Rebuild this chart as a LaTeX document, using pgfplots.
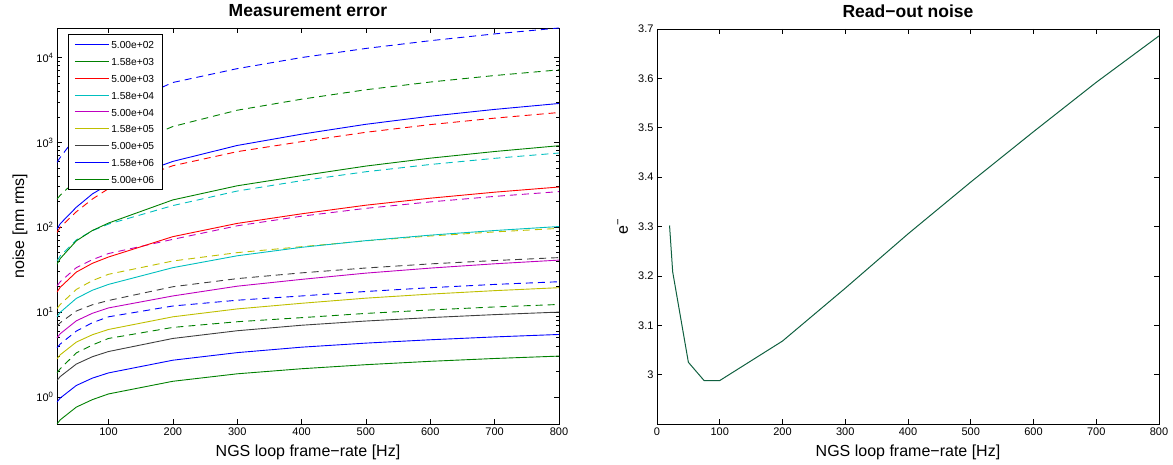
\documentclass[border=0pt]{standalone}
\usepackage{fontspec}
\setmainfont{Liberation Sans}
\usepackage{pgfplots}
\usepackage{pgfplotstable}
\pgfplotsset{compat=1.18}
\definecolor{mblue}{rgb}{0,0,1}
\definecolor{mgreen}{rgb}{0,0.5,0}
\definecolor{mred}{rgb}{1,0,0}
\definecolor{mcyan}{rgb}{0,0.75,0.75}
\definecolor{mmag}{rgb}{0.75,0,0.75}
\definecolor{myel}{rgb}{0.75,0.75,0}
\definecolor{mgray}{rgb}{0.25,0.25,0.25}
\definecolor{rongreen}{RGB}{16,96,64}

\pgfplotstableread{
x    S1    S2    S3    S4    S5    S6    S7    S8    S9    D1    D2    D3    D4    D5    D6    D7    D8    D9
20   95    36.6  17.2  8.8   4.97  2.81  1.56  0.87  0.48  582   215   87    40    20.3  11    6.8   3.8   1.92
25   110   42.7  19.6  9.94  5.56  3.14  1.74  0.97  0.537 665   238   100   46    22.8  12.3  7.5   4.2   2.15
50   172   69.1  29.6  14.5  7.89  4.43  2.44  1.365 0.759 1182  360   152   70.8  33.4  18.5  10.3  5.97  3.3
75   247   91.6  37.6  18.1  9.69  5.41  2.98  1.667 0.93  1750  540   215   91    41.5  23.5  12.2  7.5   4.1
100  320   112   44.6  21.2  11.2  6.24  3.43  1.92  1.085 2350  730   285   109   49    27.9  13.7  8.8   4.89
200  597   210   77.5  33.4  15.5  8.8   4.89  2.71  1.53  5080  1540  531   180   72    40    19.9  11.8  6.6
300  920   308   111   46.1  20.2  10.9  6.03  3.33  1.874 7400  2394  778   267   104   50.2  24.8  13.8  7.7
400  1250  405   144   58    24.3  12.7  7.0   3.86  2.15  10000 3230  1020  354   135   59    29    15.5  8.6
500  1635  526   182   69.5  28.8  14.6  7.85  4.31  2.40  12800 4174  1316  451   167   69.2  33.1  17.5  9.65
600  2035  652   220   80.7  33.0  16.3  8.62  4.72  2.63  15800 5146  1620  549   199   78.9  37.0  19.4  10.6
700  2448  781   259   91.5  37.1  17.9  9.34  5.10  2.84  19000 6140  1931  649   231   88.1  40.5  21.2  11.5
800  2875  914   298   102   41    19.4  10.0  5.45  3.03  22300 7160  2250  750   263   97    43.9  22.8  12.3
}\noisedata

\pgfplotstableread{
x    y
20   3.302
25   3.208
50   3.025
75   2.988
100  2.988
200  3.068
300  3.175
400  3.285
500  3.390
600  3.492
700  3.592
800  3.686
}\rondata

\pgfplotsset{
  mlab/.style={
    scale only axis,
    axis line style={line width=0.8pt},
    tick style={black, line width=0.6pt},
    major tick length=5pt,
    minor tick length=3pt,
    tick align=inside,
    /pgf/number format/assume math mode=true,
    ticklabel style={font=\fontsize{11}{13}\selectfont},
    title style={at={(0.5,1)}, anchor=base, yshift=5pt, font=\fontsize{17.5}{20}\selectfont\bfseries},
    xlabel style={at={(axis description cs:0.5,-0.0826)}, anchor=base, font=\fontsize{16}{19}\selectfont},
    ylabel style={anchor=base, font=\fontsize{16}{19}\selectfont},
  },
  sl/.style={line width=0.9pt, solid},
  dl/.style={line width=0.9pt, dash pattern=on 7pt off 5pt, forget plot},
}

\begin{document}
\begin{tikzpicture}[x=1pt,y=1pt]
\path[use as bounding box] (0,0) rectangle (1173,465);

\begin{axis}[
  mlab,
  at={(57pt,41pt)}, anchor=south west,
  width=502pt, height=396pt,
  ymode=log,
  xmin=20, xmax=800, ymin=0.48, ymax=22300,
  xtick={100,200,300,400,500,600,700,800},
  ytick={1,10,100,1000,10000},
  yticklabels={10\textsuperscript{0},10\textsuperscript{1},10\textsuperscript{2},10\textsuperscript{3},10\textsuperscript{4}},
  title={Measurement error},
  xlabel={NGS loop frame−rate [Hz]},
  ylabel={noise [nm rms]},
  ylabel style={at={(axis description cs:-0.0657,0.5)}},
  legend cell align=left,
  legend image code/.code={\draw[#1] (0pt,0pt) -- (34pt,0pt);},
  legend style={at={(0.0219,0.985)}, anchor=north west, draw=black, line width=0.8pt,
    font=\fontsize{10.2}{12}\selectfont, inner xsep=6pt, inner ysep=2pt, row sep=0pt,
    nodes={inner xsep=2pt, inner ysep=4.15pt, text height=8.5pt, text depth=0pt}},
]
\addplot[dl, mblue]  table[x=x,y=D1] {\noisedata};
\addplot[dl, mgreen] table[x=x,y=D2] {\noisedata};
\addplot[dl, mred]   table[x=x,y=D3] {\noisedata};
\addplot[dl, mcyan]  table[x=x,y=D4] {\noisedata};
\addplot[dl, mmag]   table[x=x,y=D5] {\noisedata};
\addplot[dl, myel]   table[x=x,y=D6] {\noisedata};
\addplot[dl, mgray]  table[x=x,y=D7] {\noisedata};
\addplot[dl, mblue]  table[x=x,y=D8] {\noisedata};
\addplot[dl, mgreen] table[x=x,y=D9] {\noisedata};
\addplot[sl, mblue]  table[x=x,y=S1] {\noisedata};
\addplot[sl, mgreen] table[x=x,y=S2] {\noisedata};
\addplot[sl, mred]   table[x=x,y=S3] {\noisedata};
\addplot[sl, mcyan]  table[x=x,y=S4] {\noisedata};
\addplot[sl, mmag]   table[x=x,y=S5] {\noisedata};
\addplot[sl, myel]   table[x=x,y=S6] {\noisedata};
\addplot[sl, mgray]  table[x=x,y=S7] {\noisedata};
\addplot[sl, mblue]  table[x=x,y=S8] {\noisedata};
\addplot[sl, mgreen] table[x=x,y=S9] {\noisedata};
\legend{5.00e+02,1.58e+03,5.00e+03,1.58e+04,5.00e+04,1.58e+05,5.00e+05,1.58e+06,5.00e+06}
\end{axis}

\begin{axis}[
  mlab,
  at={(657pt,41pt)}, anchor=south west,
  width=502pt, height=395pt,
  xmin=0, xmax=800, ymin=2.9, ymax=3.7,
  xtick={0,100,200,300,400,500,600,700,800},
  ytick={3,3.1,3.2,3.3,3.4,3.5,3.6,3.7},
  title={Read−out noise},
  xlabel={NGS loop frame−rate [Hz]},
  ylabel={e\textsuperscript{−}},
  ylabel style={at={(axis description cs:-0.0578,0.5)}},
]
\addplot[rongreen, line width=1.0pt] table[x=x,y=y] {\rondata};
\end{axis}
\end{tikzpicture}
\end{document}
